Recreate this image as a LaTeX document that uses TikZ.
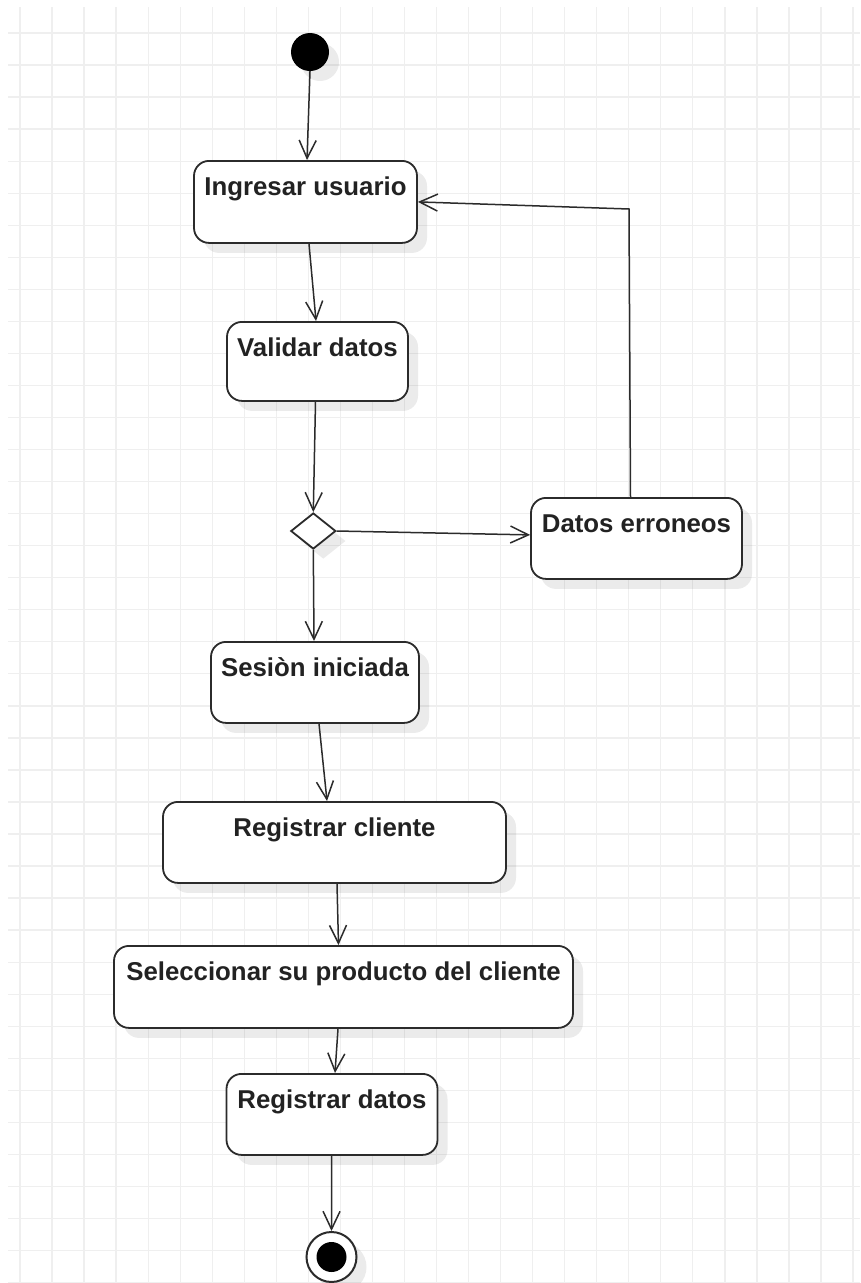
\documentclass[tikz,border=0pt]{standalone}
\usepackage{fontspec}
\setmainfont{Liberation Sans}
\usetikzlibrary{arrows.meta,shapes.geometric,shadows,calc}
\definecolor{gridc}{HTML}{EFEFEF}
\definecolor{linec}{HTML}{2B2B2B}
\definecolor{textc}{HTML}{222222}
\begin{document}
\begin{tikzpicture}[x=1pt,y=-1pt,
  shd/.style={drop shadow={shadow xshift=10pt,shadow yshift=-10pt,fill=black,opacity=0.08}},
  act/.style={draw=linec,line width=1.8pt,rounded corners=15pt,fill=white,shd,anchor=north,
    inner sep=0pt,align=center,font=\bfseries\fontsize{25.8}{30}\selectfont,text=textc,text height=34.5pt},
  flow/.style={draw=linec,line width=1.5pt,-{Straight Barb[length=18pt,width=17pt,line width=1.5pt]}},
  gridline/.style={draw=gridc,line width=1.3pt},
]
\useasboundingbox (0,0) rectangle (860,1283);
\fill[white] (0,0) rectangle (860,1283);
\foreach \i in {0,...,26} \draw[gridline] ({20+32.04*\i},7) -- ({20+32.04*\i},1283);
\foreach \j in {0,...,39} \draw[gridline] (8,{33+32.04*\j}) -- (860,{33+32.04*\j});

\node[circle,fill=black,minimum size=38pt,inner sep=0pt,shd] (start) at (310,52) {};
\node[act,minimum width=223pt,text depth=47.5pt] (ingresar) at (305.5,160) {Ingresar usuario};
\node[act,minimum width=181pt,text depth=44.5pt] (validar) at (317.5,321) {Validar datos};
\node[diamond,draw=linec,line width=1.8pt,fill=white,minimum width=45pt,minimum height=36pt,inner sep=0pt,shd] (dec) at (313.3,531) {};
\node[act,minimum width=211pt,text depth=46.5pt] (erroneos) at (636.5,497) {Datos erroneos};
\node[act,minimum width=208pt,text depth=46.5pt] (sesion) at (315,641) {Sesiòn iniciada};
\node[act,minimum width=343pt,text depth=46.5pt] (cliente) at (334.5,801) {Registrar cliente};
\node[act,minimum width=459pt,text depth=47.5pt] (selecc) at (343.5,945) {Seleccionar su producto del cliente};
\node[act,minimum width=211pt,text depth=46.5pt] (datos) at (332,1073) {Registrar datos};
\node[circle,draw=linec,line width=2pt,fill=white,minimum size=50pt,inner sep=0pt,shd] (end) at (331.5,1257) {};
\node[circle,fill=black,minimum size=30pt,inner sep=0pt] (endin) at (end.center) {};

\coordinate (corner) at (629,209);

\draw[flow] (start.south) -- ($(ingresar.north)+(1.5,0)$);
\draw[flow] ($(ingresar.south)+(3.5,0)$) -- ($(validar.north)+(-1.5,0)$);
\draw[flow] ($(validar.south)+(-2,0)$) -- (dec.north);
\draw[flow] (dec.east) -- ($(erroneos.west)+(0,-3.5)$);
\draw[flow] ($(erroneos.north)+(-6,0)$) -- (corner) -- (ingresar.east);
\draw[flow] (dec.south) -- ($(sesion.north)+(-1,0)$);
\draw[flow] ($(sesion.south)+(4,0)$) -- ($(cliente.north)+(-7.5,0)$);
\draw[flow] ($(cliente.south)+(2.5,0)$) -- ($(selecc.north)+(-5,0)$);
\draw[flow] ($(selecc.south)+(-5.5,0)$) -- ($(datos.north)+(3,0)$);
\draw[flow] ($(datos.south)+(-0.3,0)$) -- (end.north);
\end{tikzpicture}
\end{document}
